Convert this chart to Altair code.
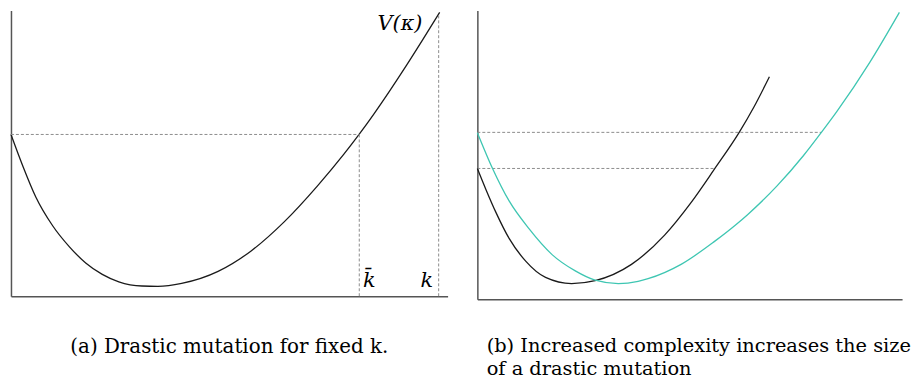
import altair as alt
import pandas as pd

# ---- panel (a): V(kappa) for fixed k ----
a_x = [0, 12, 25, 42, 58.7, 75.3, 92, 108.7, 132, 148, 172, 208.7, 242, 275.3,
       308.7, 335.3, 351, 365.3, 382, 398.7, 415.3, 432]
a_v = [163, 131, 100, 71, 50, 33.5, 22, 14.5, 10.3, 10, 12.9, 25, 45.6, 74.9,
       111, 142.9, 163.3, 183, 207.4, 232.8, 259, 286]
a_level = 163          # V at the origin
a_kbar = 351           # where V returns to that level
a_k = 431              # fixed k
a_k_top = 284

# ---- panel (b): two complexities ----
b_black_x = [0, 8.7, 18.7, 32, 48.7, 68.7, 95, 118.7, 155.3, 188.7, 215.3,
             238.7, 263.7, 278.7, 294.3]
b_black_v = [134, 112.3, 89, 62.3, 39, 22.3, 16, 19, 35.7, 65.7, 99,
             133, 170.7, 197, 228]
b_teal_x = [0, 15.3, 32, 52, 75.3, 98.7, 118.7, 142, 162, 172, 205.3, 238.7,
            262, 272, 302, 328.7, 346.3, 362, 395.3, 425.3]
b_teal_v = [170.7, 134, 100.7, 72.3, 45.7, 29, 19.5, 16, 18.3, 21, 35.7, 59,
            77.6, 86.4, 116.1, 147.3, 170.5, 192, 242.5, 294]
b_levels = [171, 134]
b_level_ends = [346.3, 238.7]

SERIF = "DejaVu Serif"
BLACK = "#1a1a1a"
TEAL = "#3ec6b2"
GUIDE = "#8c8c8c"

def axes(xmax, ymax):
    ax = alt.Axis(ticks=False, labels=False, title=None, grid=False,
                  domainColor="#555555", domainWidth=1.5)
    x = alt.X("x:Q", scale=alt.Scale(domain=[0, xmax], nice=False, zero=True), axis=ax)
    y = alt.Y("y:Q", scale=alt.Scale(domain=[0, ymax], nice=False, zero=True), axis=ax)
    return x, y

# ---------------- left panel ----------------
AX_W, AX_H = 440, 288
xa, ya = axes(AX_W, AX_H)
df_a = pd.DataFrame({"x": a_x, "y": a_v})
curve_a = alt.Chart(df_a).mark_line(color=BLACK, strokeWidth=1.3,
                                    interpolate="monotone").encode(x=xa, y=ya)
hl_a = alt.Chart(pd.DataFrame({"x": [0], "x2": [a_kbar], "y": [a_level]})).mark_rule(
    color=GUIDE, strokeWidth=1, strokeDash=[3, 2]).encode(x=xa, x2="x2:Q", y=ya)
vl_a = alt.Chart(pd.DataFrame({"x": [a_kbar, a_k], "y": [0, 0],
                               "y2": [a_level, a_k_top]})).mark_rule(
    color=GUIDE, strokeWidth=1, strokeDash=[3, 2]).encode(x=xa, y=ya, y2="y2:Q")
lab_a = pd.DataFrame({"x": [361, 419], "y": [9, 9], "t": ["k\u0304", "k"]})
txt_a = alt.Chart(lab_a).mark_text(font=SERIF, fontSize=21, fontStyle="italic",
                                   baseline="alphabetic", align="center",
                                   color="black").encode(x=xa, y=ya, text="t:N")
vk = pd.DataFrame({"x": [392], "y": [268], "t": ["V(\u03ba)"]})
txt_v = alt.Chart(vk).mark_text(font=SERIF, fontSize=21, fontStyle="italic",
                                baseline="alphabetic", align="center",
                                color="black").encode(x=xa, y=ya, text="t:N")

left = alt.layer(curve_a, hl_a, vl_a, txt_a, txt_v).properties(
    width=AX_W, height=AX_H,
    title=alt.TitleParams("(a) Drastic mutation for fixed k.", orient="bottom",
                          anchor="middle", font=SERIF, fontSize=20,
                          fontWeight="normal", color="black", offset=41))

# ---------------- right panel ----------------
BX_W, BX_H = 428, 291
xb, yb = axes(BX_W, 296)
df_b = pd.concat([
    pd.DataFrame({"x": b_black_x, "y": b_black_v, "s": "low"}),
    pd.DataFrame({"x": b_teal_x, "y": b_teal_v, "s": "high"}),
])
curves_b = alt.Chart(df_b).mark_line(strokeWidth=1.3, interpolate="monotone").encode(
    x=xb, y=yb, detail="s:N",
    color=alt.Color("s:N", scale=alt.Scale(domain=["low", "high"], range=[BLACK, TEAL]),
                    legend=None))
hl_b = alt.Chart(pd.DataFrame({"x": [0, 0], "x2": b_level_ends, "y": b_levels})).mark_rule(
    color=GUIDE, strokeWidth=1, strokeDash=[3, 2]).encode(x=xb, x2="x2:Q", y=yb)

right = alt.layer(hl_b, curves_b).properties(
    width=BX_W, height=BX_H,
    title=alt.TitleParams(["(b) Increased complexity increases the size",
                           "of a drastic mutation"], orient="bottom",
                          anchor="start", dx=12, font=SERIF, fontSize=19.5,
                          lineHeight=23, fontWeight="normal", color="black",
                          offset=38))

chart = alt.hconcat(left, right, spacing=27).properties(padding=0).configure_view(
    stroke=None)

chart.save("out.html", embed_options={"renderer": "svg", "actions": False})
